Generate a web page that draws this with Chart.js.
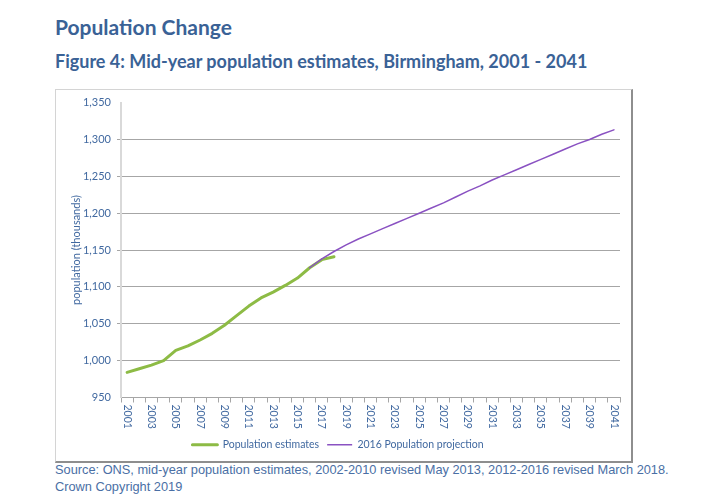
<!DOCTYPE html>
<html>
<head>
<meta charset="utf-8">
<script src="https://cdn.jsdelivr.net/npm/chart.js@4.4.1/dist/chart.umd.min.js"></script>
<style>
  html, body { margin: 0; padding: 0; background: #ffffff; }
  body { width: 701px; height: 498px; position: relative; overflow: hidden; }
  .h1 { position: absolute; left: 55px; top: 14px; font-family: Lato, "Open Sans", sans-serif; font-weight: 700; font-size: 21px; color: #3A6296; white-space: nowrap; }
  .h2 { position: absolute; left: 55px; top: 50px; font-family: Lato, "Open Sans", sans-serif; font-weight: 700; font-size: 18px; color: #3A6296; white-space: nowrap; }
  .box { position: absolute; left: 55px; top: 89px; width: 575px; height: 371px; border-left: 1px solid #D4D4D4; border-top: 1px solid #D4D4D4; border-right: 2px solid #8E8E8E; border-bottom: 2px solid #8E8E8E; }
  .wrap { position: absolute; left: 56px; top: 90px; width: 574px; height: 371px; }
  .src { position: absolute; left: 55px; top: 461px; font-family: "Liberation Sans", Arial, sans-serif; font-size: 13px; line-height: 17px; color: #4A6FA5; white-space: nowrap; transform: scaleX(0.984); transform-origin: 0 0; }
</style>
</head>
<body>
<div class="h1">Population Change</div>
<div class="h2">Figure 4: Mid-year population estimates, Birmingham, 2001 - 2041</div>
<div class="box"></div>
<div class="wrap"><canvas id="c" width="574" height="371"></canvas></div>
<div class="src">Source: ONS, mid-year population estimates, 2002-2010 revised May 2013, 2012-2016 revised March 2018.<br>Crown Copyright 2019</div>
<script>
const years = ['2001','2002','2003','2004','2005','2006','2007','2008','2009','2010',
  '2011','2012','2013','2014','2015','2016','2017','2018','2019','2020',
  '2021','2022','2023','2024','2025','2026','2027','2028','2029','2030',
  '2031','2032','2033','2034','2035','2036','2037','2038','2039','2040','2041'];

const estimates = [984, 989, 994, 1000, 1014, 1020, 1028, 1037, 1048, 1061,
  1074, 1085, 1093, 1102, 1112, 1126, 1137, 1141];

const projection = [null, null, null, null, null, null, null, null, null, null,
  null, null, null, null, null, 1126, 1138, 1148, 1157, 1165,
  1172, 1179, 1186, 1193, 1200, 1207, 1214, 1222, 1230, 1237,
  1245, 1252, 1259, 1266, 1273, 1280, 1287, 1294, 1300, 1307, 1313];

const yTicks = [950, 1000, 1050, 1100, 1150, 1200, 1250, 1300, 1350];

const seriesNames = ['Population estimates', '2016 Population projection'];

const textColor = '#4169A0';
const tickFont = { family: 'Lato, "Open Sans", sans-serif', size: 11 };

const xLabelPlugin = {
  id: 'xLabels',
  afterDraw(chart) {
    const sc = chart.scales.x;
    const ctx = chart.ctx;
    ctx.save();
    ctx.fillStyle = textColor;
    ctx.font = '10.5px Lato, "Open Sans", sans-serif';
    ctx.textAlign = 'left';
    ctx.textBaseline = 'middle';
    years.forEach((y, i) => {
      if (i % 2 !== 0) return;
      const x = sc.getPixelForTick(i);
      ctx.save();
      ctx.translate(x, sc.top + 7);
      ctx.rotate(Math.PI / 2);
      ctx.fillText(y, 0, 0);
      ctx.restore();
    });
    ctx.restore();
  }
};

new Chart(document.getElementById('c'), {
  type: 'line',
  data: {
    labels: years,
    datasets: [
      { label: seriesNames[0], data: estimates, borderColor: '#8DBB45', backgroundColor: '#8DBB45',
        borderWidth: 3, pointRadius: 0, tension: 0, borderCapStyle: 'round', borderJoinStyle: 'round', order: 1, spanGaps: false },
      { label: seriesNames[1], data: projection, borderColor: '#8A52C2', backgroundColor: '#8A52C2',
        borderWidth: 1.5, pointRadius: 0, tension: 0, borderCapStyle: 'round', order: 0, spanGaps: false }
    ]
  },
  options: {
    responsive: false,
    animation: false,
    layout: { padding: { left: 0, right: 10, top: 12, bottom: 1 } },
    plugins: {
      legend: {
        position: 'bottom',
        labels: {
          color: textColor, font: { family: 'Lato, "Open Sans", sans-serif', size: 10.5 },
          boxWidth: 25, boxHeight: 0, padding: 8,
          sort: function(a, b) { return a.datasetIndex - b.datasetIndex; }
        }
      },
      tooltip: { enabled: false }
    },
    scales: {
      x: {
        type: 'category',
        offset: true,
        grid: { display: true, drawOnChartArea: false, drawTicks: true, tickLength: 5, color: '#A6A6A6', offset: true },
        border: { display: true, color: '#A6A6A6', width: 1 },
        ticks: { autoSkip: false, color: 'rgba(0,0,0,0)', minRotation: 90, maxRotation: 90, font: { size: 10.5 },
          callback: function(v, i) { return i % 2 === 0 ? years[i] : ''; } },
        afterFit: function(s) { s.height = 34; }
      },
      y: {
        min: 950, max: 1350,
        afterBuildTicks: function(s) { s.ticks = yTicks.map(v => ({ value: v })); },
        grid: { color: function(c) { return c.tick && (c.tick.value === 1350 || c.tick.value === 950) ? 'rgba(0,0,0,0)' : '#A6A6A6'; },
          tickLength: 4, lineWidth: 1 },
        border: { display: true, color: '#D9D9D9', width: 2 },
        ticks: { color: textColor, font: tickFont, padding: 6,
          callback: function(v) { return Number(v).toLocaleString('en-US'); } },
        title: { display: true, text: 'population (thousands)', color: textColor,
          font: { family: 'Lato, "Open Sans", sans-serif', size: 11 }, padding: { top: 14, bottom: 0 } },
        afterFit: function(s) { s.width = 65; }
      }
    }
  },
  plugins: [xLabelPlugin]
});
</script>
</body>
</html>
